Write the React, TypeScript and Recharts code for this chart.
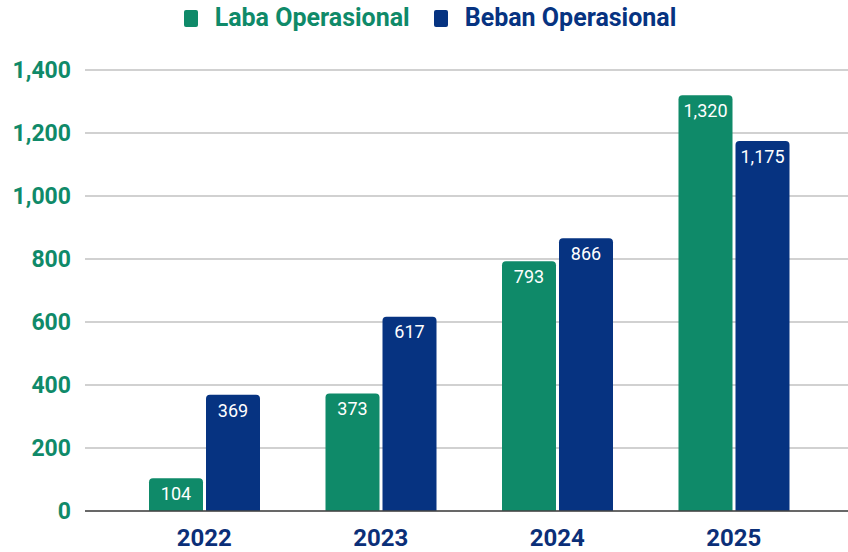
import React from "react";
import { BarChart, Bar, XAxis, YAxis, CartesianGrid, LabelList } from "recharts";

const years = ["2022", "2023", "2024", "2025"];
const labaOperasional = [104, 373, 793, 1320];
const bebanOperasional = [369, 617, 866, 1175];
const yTicks = [0, 200, 400, 600, 800, 1000, 1200, 1400];

const GREEN = "#0F8A69";
const BLUE = "#063381";
const FONT = "Roboto, 'Noto Sans', sans-serif";

const data = years.map((y, i) => ({
  year: y,
  laba: labaOperasional[i],
  beban: bebanOperasional[i],
}));

const fmt = (v: number) => v.toLocaleString("en-US");

const legendItems = [
  { name: "Laba Operasional", color: GREEN },
  { name: "Beban Operasional", color: BLUE },
];

export default function App() {
  return (
    <div style={{ position: "absolute", left: 0, top: 0, width: 848, height: 552, background: "#fff", fontFamily: FONT }}>
      <div
        style={{
          position: "absolute",
          top: 3,
          left: 0,
          width: 860,
          display: "flex",
          justifyContent: "center",
          alignItems: "center",
          gap: 24,
        }}
      >
        {legendItems.map((it) => (
          <div key={it.name} style={{ display: "flex", alignItems: "center" }}>
            <div style={{ width: 14, height: 17, background: it.color, borderRadius: 2, marginRight: 17 }} />
            <span style={{ color: it.color, fontSize: 25, fontWeight: 700, lineHeight: "30px" }}>{it.name}</span>
          </div>
        ))}
      </div>
      <BarChart
        width={848}
        height={552}
        data={data}
        margin={{ top: 70, right: 0, bottom: 0, left: 0 }}
        barCategoryGap={33}
        barGap={3}
      >
        <CartesianGrid vertical={false} stroke="#c2c2c2" strokeWidth={1.5} />
        <XAxis
          dataKey="year"
          padding={{ left: 31, right: 26 }}
          height={41}
          tickLine={false}
          axisLine={{ stroke: "#444", strokeWidth: 1.5 }}
          tickMargin={12}
          tick={{ fill: "#0B2F78", fontSize: 24, fontWeight: 700, fontFamily: FONT }}
        />
        <YAxis
          width={85}
          domain={[0, 1400]}
          ticks={yTicks}
          tickFormatter={fmt}
          axisLine={false}
          tickLine={false}
          tickMargin={8}
          tick={{ fill: GREEN, fontSize: 23, fontWeight: 700, fontFamily: FONT }}
        />
        <Bar dataKey="laba" fill={GREEN} radius={[4, 4, 0, 0]} isAnimationActive={false}>
          <LabelList dataKey="laba" position="insideTop" offset={9} formatter={fmt} fill="#fff" fontSize={18} fontFamily={FONT} />
        </Bar>
        <Bar dataKey="beban" fill={BLUE} radius={[4, 4, 0, 0]} isAnimationActive={false}>
          <LabelList dataKey="beban" position="insideTop" offset={9} formatter={fmt} fill="#fff" fontSize={18} fontFamily={FONT} />
        </Bar>
      </BarChart>
    </div>
  );
}
